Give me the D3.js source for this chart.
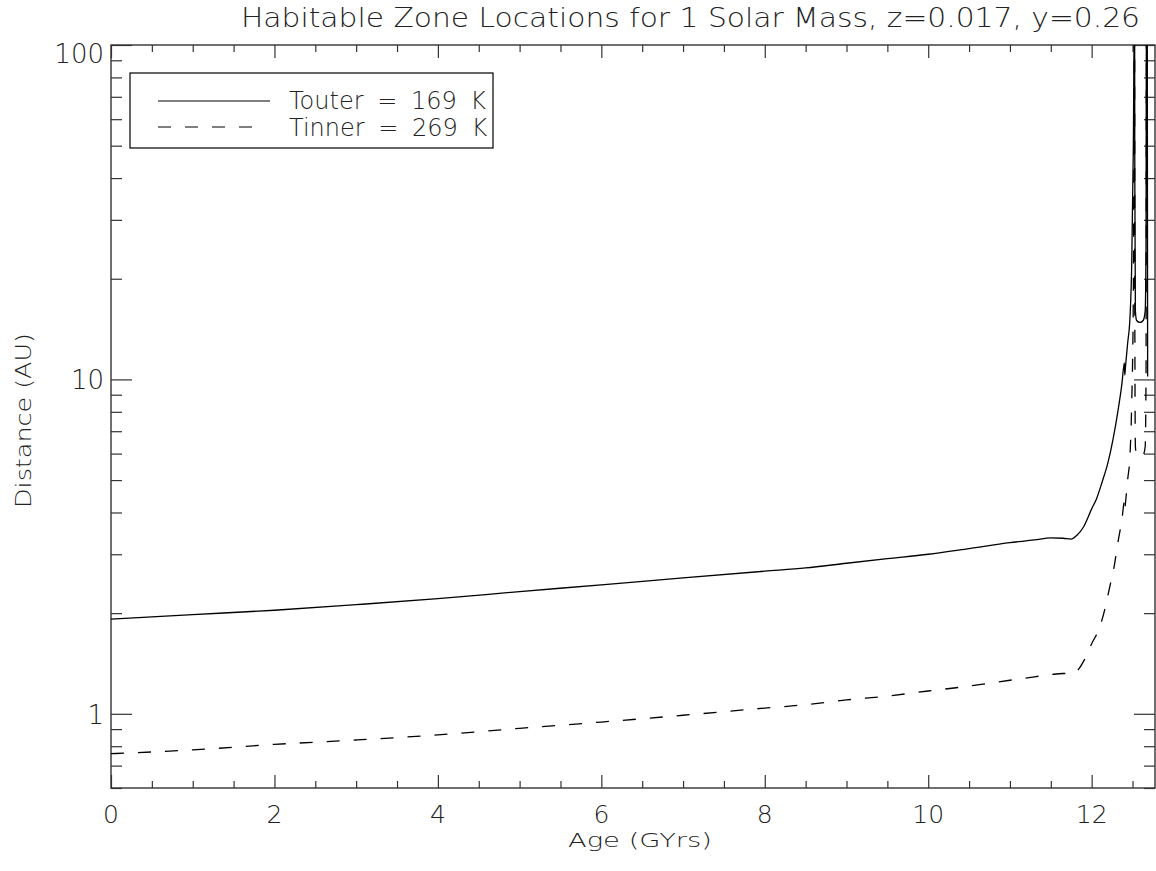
<!DOCTYPE html>
<html><head><meta charset="utf-8">
<script src="https://cdn.jsdelivr.net/npm/d3@7"></script>
<style>
body{margin:0;background:#fff}
svg{display:block}
text{font-family:"DejaVu Sans","Liberation Sans",sans-serif;font-weight:200;fill:#222}
</style>
</head><body>
<svg id="c" width="1156" height="871"></svg>
<script>
// ---- data ----
const ageOuter  = [0, 1, 2, 3, 4, 5, 6, 7, 8, 8.5, 9, 9.5, 10, 10.5, 11, 11.3, 11.5, 11.65, 11.75, 11.82, 11.9, 12.0, 12.06, 12.13, 12.2, 12.26, 12.32, 12.37, 12.40, 12.405, 12.415, 12.44, 12.47, 12.49, 12.51, 12.525, 12.528, 12.535, 12.55, 12.59, 12.63, 12.655, 12.665, 12.67, 12.68, 12.685];
const distOuter = [1.92, 1.98, 2.04, 2.12, 2.21, 2.32, 2.43, 2.55, 2.67, 2.73, 2.82, 2.91, 3.0, 3.12, 3.25, 3.31, 3.36, 3.35, 3.33, 3.42, 3.62, 4.1, 4.4, 4.95, 5.65, 6.6, 8.0, 9.7, 11.2, 10.3, 11.0, 12.8, 15.5, 22, 50, 150, 40, 16, 15.0, 14.8, 15.0, 16, 25, 150, 150, 10.2];
const ageInner  = [0, 1, 2, 3, 4, 5, 6, 7, 8, 8.5, 9, 9.5, 10, 10.5, 11, 11.3, 11.5, 11.65, 11.77, 11.85, 11.91, 12.0, 12.10, 12.16, 12.22, 12.28, 12.32, 12.37, 12.40, 12.405, 12.415, 12.44, 12.47, 12.49, 12.51, 12.525, 12.528, 12.535, 12.55, 12.59, 12.63, 12.655, 12.665, 12.67];
const distInner = [0.76, 0.78, 0.81, 0.835, 0.865, 0.905, 0.945, 0.99, 1.04, 1.065, 1.10, 1.13, 1.17, 1.21, 1.26, 1.29, 1.31, 1.32, 1.32, 1.37, 1.45, 1.62, 1.82, 2.05, 2.39, 2.8, 3.24, 3.8, 4.3, 4.05, 4.3, 5.0, 6.0, 8.5, 18, 150, 16, 6.3, 5.93, 5.85, 5.93, 6.3, 10, 150];
const xMajorTicks = [0, 2, 4, 6, 8, 10, 12];
const xMinorTicks = [0.5, 1, 1.5, 2.5, 3, 3.5, 4.5, 5, 5.5, 6.5, 7, 7.5, 8.5, 9, 9.5, 10.5, 11, 11.5, 12.5];
const yMajorTicks = [1, 10, 100];
const yMinorTicks = [0.6, 0.7, 0.8, 0.9, 2, 3, 4, 5, 6, 7, 8, 9, 20, 30, 40, 50, 60, 70, 80, 90];
const xDomain = [0, 12.775];
const yDomain = [0.6, 100];
const titleText = "Habitable Zone Locations for 1 Solar Mass, z=0.017, y=0.26";
const xTitle = "Age (GYrs)";
const yTitle = "Distance (AU)";
const legendLabels = ["Touter = 169 K", "Tinner = 269 K"];

// ---- layout ----
const L = 111, R = 1155, T = 45, B = 788;
const svg = d3.select("#c");
const x = d3.scaleLinear().domain(xDomain).range([L, R]);
const y = d3.scaleLog().domain(yDomain).range([B, T]);

svg.append("defs").append("clipPath").attr("id", "clip")
  .append("rect").attr("x", L).attr("y", T).attr("width", R - L).attr("height", B - T);

const axisColor = "#333";
function styleAxis(g) {
  g.select(".domain").remove();
  g.selectAll(".tick line").attr("stroke", axisColor).attr("stroke-width", 1.2);
  g.selectAll(".tick text").remove();
}
svg.append("g").attr("transform", `translate(0,${B})`)
  .call(d3.axisBottom(x).tickValues(xMajorTicks).tickSize(-13)).call(styleAxis);
svg.append("g").attr("transform", `translate(0,${B})`)
  .call(d3.axisBottom(x).tickValues(xMinorTicks).tickSize(-7)).call(styleAxis);
svg.append("g").attr("transform", `translate(0,${T})`)
  .call(d3.axisTop(x).tickValues(xMajorTicks).tickSize(-13)).call(styleAxis);
svg.append("g").attr("transform", `translate(0,${T})`)
  .call(d3.axisTop(x).tickValues(xMinorTicks).tickSize(-7)).call(styleAxis);
svg.append("g").attr("transform", `translate(${L},0)`)
  .call(d3.axisLeft(y).tickValues(yMajorTicks).tickSize(-21)).call(styleAxis);
svg.append("g").attr("transform", `translate(${L},0)`)
  .call(d3.axisLeft(y).tickValues(yMinorTicks).tickSize(-11)).call(styleAxis);
svg.append("g").attr("transform", `translate(${R},0)`)
  .call(d3.axisRight(y).tickValues(yMajorTicks).tickSize(-21)).call(styleAxis);
svg.append("g").attr("transform", `translate(${R},0)`)
  .call(d3.axisRight(y).tickValues(yMinorTicks).tickSize(-11)).call(styleAxis);

svg.append("rect").attr("x", L).attr("y", T).attr("width", R - L).attr("height", B - T)
  .attr("fill", "none").attr("stroke", axisColor).attr("stroke-width", 1.4);

// tick labels
svg.append("g").selectAll("text").data(xMajorTicks).join("text")
  .attr("x", d => x(d)).attr("y", 823).attr("text-anchor", "middle")
  .attr("font-size", 25).text(d => d);
svg.append("g").selectAll("text").data(yMajorTicks).join("text")
  .attr("x", 104).attr("y", d => d === 100 ? 63 : y(d) + 10).attr("text-anchor", "end")
  .attr("font-size", 26).text(d => d);

// titles
svg.append("text").attr("x", 241).attr("y", 27).attr("font-size", 27)
  .attr("textLength", 899).attr("lengthAdjust", "spacingAndGlyphs").text(titleText);
svg.append("text").attr("x", 568).attr("y", 847).attr("font-size", 19.5)
  .attr("textLength", 144).attr("lengthAdjust", "spacingAndGlyphs").text(xTitle);
svg.append("text").attr("transform", "translate(31,508) rotate(-90)").attr("font-size", 22)
  .attr("textLength", 175).attr("lengthAdjust", "spacingAndGlyphs").text(yTitle);

// lines
const line = d3.line().x(d => x(d[0])).y(d => y(d[1])).curve(d3.curveMonotoneX);
const plot = svg.append("g").attr("clip-path", "url(#clip)");
plot.append("path").datum(d3.zip(ageOuter, distOuter))
  .attr("d", line).attr("fill", "none").attr("stroke", "#000").attr("stroke-width", 1.3);
plot.append("path").datum(d3.zip(ageInner, distInner))
  .attr("d", line).attr("fill", "none").attr("stroke", "#000").attr("stroke-width", 1.3)
  .attr("stroke-dasharray", "13,14");

// legend
const lg = svg.append("g");
lg.append("rect").attr("x", 130).attr("y", 73).attr("width", 363).attr("height", 75)
  .attr("fill", "#fff").attr("stroke", "#000").attr("stroke-width", 1.2);
const styles = [null, "13,14"];
legendLabels.forEach((lab, i) => {
  const ly = [101, 127][i];
  lg.append("line").attr("x1", 158).attr("x2", [270, 253][i]).attr("y1", ly).attr("y2", ly)
    .attr("stroke", "#000").attr("stroke-width", 1.2)
    .attr("stroke-dasharray", styles[i]);
  lg.append("text").attr("x", 289).attr("y", [109, 136][i]).attr("font-size", 24)
    .attr("word-spacing", 6).text(lab);
});
</script>
</body></html>
